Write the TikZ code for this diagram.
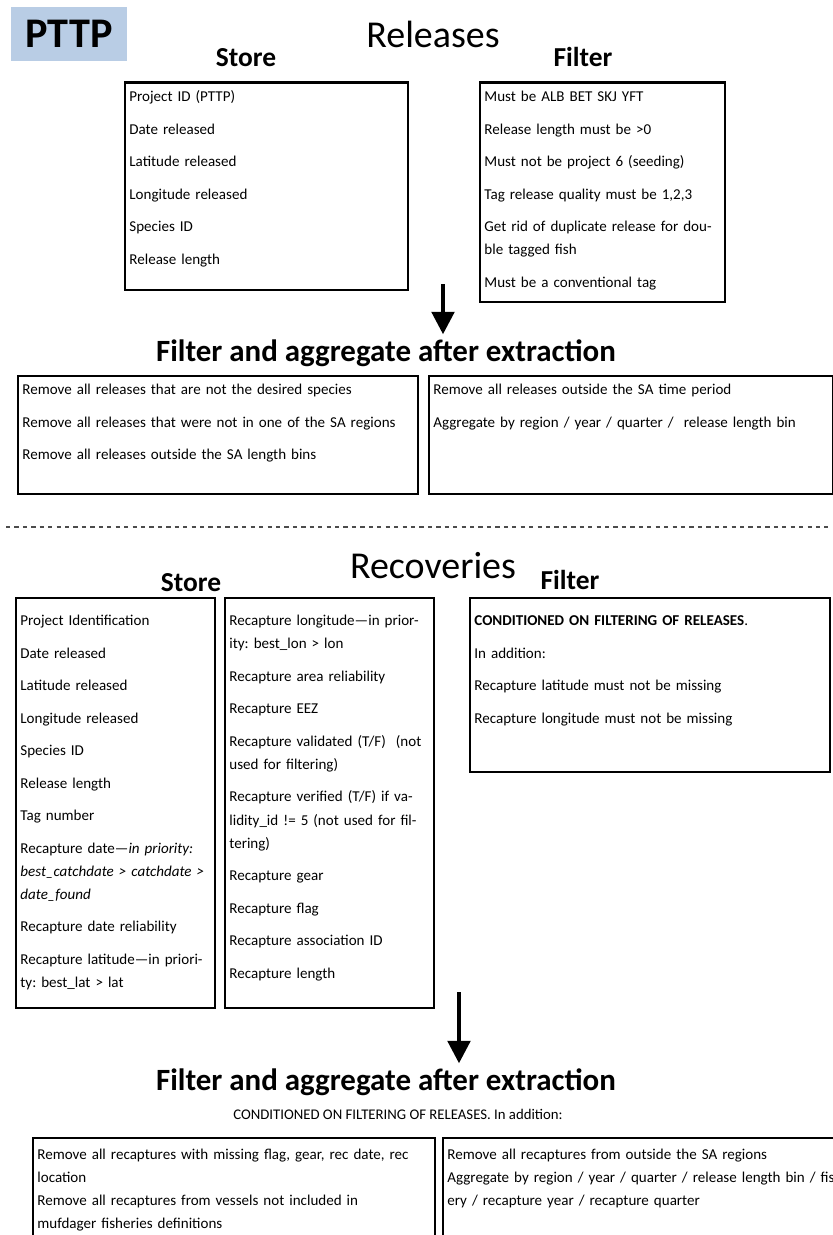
\documentclass[tikz,border=0pt]{standalone}
\usepackage{fontspec}
\setmainfont{Carlito}
\usetikzlibrary{arrows.meta}
\definecolor{pttpblue}{HTML}{B9CDE5}
\frenchspacing
\newcommand{\boxfont}{\fontsize{10.7pt}{16.4pt}\selectfont}
\newcommand{\itembreak}{\\[6.7pt]}
\newcommand{\boxlines}[1]{\begin{tabular}[t]{@{}l@{}}#1\end{tabular}}

\begin{document}
\begin{tikzpicture}[x=0.025cm, y=-0.025cm,
  heading/.style={anchor=base, font=\fontsize{27pt}{32pt}\selectfont},
  colhead/.style={anchor=base, font=\fontsize{19.5pt}{23pt}\selectfont\bfseries},
  steptitle/.style={anchor=base, font=\fontsize{22pt}{26pt}\selectfont\bfseries},
  listbox/.style={draw, line width=2pt, anchor=north west, inner xsep=3.2pt,
    inner ysep=0pt, align=left, font=\boxfont},
  flow/.style={-{Triangle[width=16pt, length=16pt]}, line width=2.8pt},
  divider/.style={dashed, line width=0.8pt, black!70}
]
  \useasboundingbox (0,0) rectangle (833,1235);
  \clip (0,0) rectangle (833,1235);

  % releases
  \node[fill=pttpblue, minimum width=2.9cm, minimum height=1.35cm,
    font=\fontsize{30pt}{36pt}\selectfont\bfseries] (pttp) at (69,34) {PTTP};
  \node[heading] (relhead) at (433,48) {Releases};
  \node[colhead] (relstorehead) at (246,67) {Store};
  \node[colhead] (relfilterhead) at (583,67) {Filter};

  \node[listbox, text width=6.85cm, text height=13.5pt, text depth=4.7cm]
    (relstore) at (123.5,81.5) {\boxlines{Project ID (PTTP)\itembreak
    Date released\itembreak Latitude released\itembreak
    Longitude released\itembreak Species ID\itembreak Release length}};
  \node[listbox, text width=5.9cm, text height=13.5pt, text depth=5cm]
    (relfilter) at (478.5,81.5) {\boxlines{Must be ALB BET SKJ YFT\itembreak
    Release length must be >0\itembreak
    Must not be project 6 (seeding)\itembreak
    Tag release quality must be 1,2,3\itembreak
    Get rid of duplicate release for dou-\\ ble tagged fish\itembreak
    Must be a conventional tag}};

  \node[steptitle] (relaggtitle) at (386,361) {Filter and aggregate after extraction};
  \coordinate (relflowtop) at (443,284);
  \draw[flow] (relflowtop) -- (relflowtop |- relaggtitle.north);

  \node[listbox, text width=9.775cm, text height=13.5pt, text depth=2.475cm]
    (relaggleft) at (16.5,374.5) {\boxlines{Remove all releases that are not the desired species\itembreak
    Remove all releases that were not in one of the SA regions\itembreak
    Remove all releases outside the SA length bins}};
  \node[listbox, text width=9.875cm, text height=13.5pt, text depth=2.475cm]
    (relaggright) at (427.5,374.5) {\boxlines{Remove all releases outside the SA time period\itembreak
    Aggregate by region / year / quarter /\ \ release length bin}};

  \coordinate (divleft) at (6,527);
  \coordinate (divright) at (828,527);
  \draw[divider] (divleft) -- (divright);

  % recoveries
  \node[heading] (rechead) at (433,578) {Recoveries};
  \node[colhead] (recstorehead) at (191,591) {Store};
  \node[colhead] (recfilterhead) at (570,589) {Filter};

  \node[listbox, text width=4.75cm, text height=19.9pt, text depth=9.55cm]
    (recstorea) at (14.5,596.5) {\boxlines{Project Identification\itembreak
    Date released\itembreak Latitude released\itembreak
    Longitude released\itembreak Species ID\itembreak
    Release length\itembreak Tag number\itembreak
    Recapture date\textemdash\textit{in priority:}\\
    \textit{best\_catchdate > catchdate >}\\ \textit{date\_found}\itembreak
    Recapture date reliability\itembreak
    Recapture latitude\textemdash in priori-\\ ty: best\_lat > lat}};
  \node[listbox, text width=5cm, text height=19.9pt, text depth=9.55cm]
    (recstoreb) at (223.5,596.5) {\boxlines{Recapture longitude\textemdash in prior-\\
    ity: best\_lon > lon\itembreak
    Recapture area reliability\itembreak Recapture EEZ\itembreak
    Recapture validated (T/F)\ \ (not\\ used for filtering)\itembreak
    Recapture verified (T/F) if va-\\ lidity\_id != 5 (not used for fil-\\ tering)\itembreak
    Recapture gear\itembreak Recapture flag\itembreak
    Recapture association ID\itembreak Recapture length}};
  \node[listbox, text width=8.775cm, text height=19.9pt, text depth=3.65cm]
    (recfilter) at (468.5,596.5) {\boxlines{\textbf{CONDITIONED ON FILTERING OF RELEASES}.\itembreak
    In addition:\itembreak
    Recapture latitude must not be missing\itembreak
    Recapture longitude must not be missing}};

  \node[steptitle] (recaggtitle) at (386,1090) {Filter and aggregate after extraction};
  \coordinate (recflowtop) at (459,992);
  \draw[flow] (recflowtop) -- (recflowtop |- recaggtitle.north);

  \node[anchor=base, font=\fontsize{10.5pt}{12pt}\selectfont] (recaggnote)
    at (398,1119) {CONDITIONED ON FILTERING OF RELEASES. In addition:};

  \node[listbox, text width=9.825cm, text height=15pt, text depth=3.75cm]
    (recaggleft) at (31.5,1136.5) {\boxlines{Remove all recaptures with missing flag, gear, rec date, rec\\
    location\\ Remove all recaptures from vessels not included in\\
    mufdager fisheries definitions}};
  \node[listbox, text width=11.275cm, text height=15pt, text depth=3.75cm]
    (recaggright) at (441.5,1136.5) {\boxlines{Remove all recaptures from outside the SA regions\\
    Aggregate by region / year / quarter / release length bin / fish-\\
    ery / recapture year / recapture quarter}};
\end{tikzpicture}
\end{document}
